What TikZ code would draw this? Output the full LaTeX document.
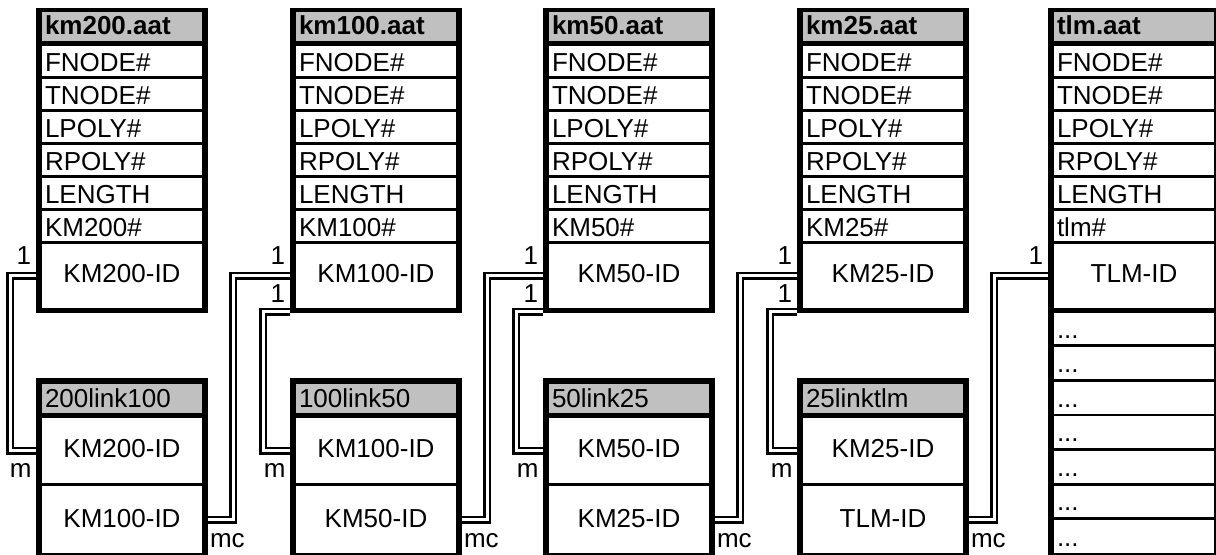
\documentclass[tikz,border=0pt]{standalone}
\usepackage{fontspec}
\setmainfont{Liberation Sans}
\usetikzlibrary{calc}
\definecolor{hdrgray}{RGB}{192,192,192}
\pgfdeclarelayer{bg}
\pgfsetlayers{bg,main}
\begin{document}
\begin{tikzpicture}[x=1bp,y=-1bp,
  every node/.style={inner sep=0pt, outer sep=0pt},
  font=\fontsize{26bp}{30bp}\selectfont,
  frame/.style={fill=black, anchor=north west, minimum width=172bp},
  cellbase/.style={anchor=north west, fill=white, text width=154bp, inner xsep=3bp, align=left},
  hdrcell/.style={cellbase, fill=hdrgray, minimum height=29bp, text height=16bp, text depth=0bp},
  lhdrcell/.style={cellbase, fill=hdrgray, minimum height=29bp, text height=17bp, text depth=0bp},
  fieldcell/.style={cellbase, minimum height=30bp, text height=22bp, text depth=0bp},
  idcell/.style={anchor=north west, fill=white, minimum width=160bp, align=center, text height=18bp, text depth=4bp},
  dotcell/.style={cellbase, minimum height=31.5bp, text height=19bp, text depth=0bp},
  card/.style={anchor=base east},
  cardr/.style={anchor=base west},
  conn/.style={draw=black, double=white, double distance=3bp, line width=2.5bp, line join=miter},
]
\useasboundingbox (0,0) rectangle (1216,555);

% top tables
\foreach \k/\x/\ttl/\num/\idt in {1/36/km200/KM200/KM200-ID, 2/290/km100/KM100/KM100-ID, 3/543/km50/KM50/KM50-ID, 4/797/km25/KM25/KM25-ID, 5/1048/tlm/tlm/TLM-ID}{
  \ifnum\k=5
    \node[frame, minimum height=549bp] (T\k) at (\x,8) {};
  \else
    \node[frame, minimum height=305bp] (T\k) at (\x,8) {};
  \fi
  \node[hdrcell] (TH\k) at (\x+6,12) {\textbf{\ttl.aat}};
  \foreach \f [count=\i] in {FNODE\#, TNODE\#, LPOLY\#, RPOLY\#, LENGTH, \num\#}{
    \node[fieldcell] (TR\k-\i) at (\x+6,{46+33*(\i-1)}) {\f};
  }
  \node[idcell, minimum height=64bp] (TID\k) at (\x+6,244) {\idt};
}

% tlm.aat extra rows
\foreach \yy [count=\i] in {313,347.5,382,416.5,451,485.5}{
  \node[dotcell] (D\i) at (1054,\yy) {...};
}
\node[dotcell, minimum height=33bp, text height=20bp] (D7) at (1054,520) {...};

% link tables
\foreach \k/\x/\ttl/\ida/\idb in {1/36/200link100/KM200-ID/KM100-ID, 2/290/100link50/KM100-ID/KM50-ID, 3/543/50link25/KM50-ID/KM25-ID, 4/797/25linktlm/KM25-ID/TLM-ID}{
  \node[frame, minimum height=179bp] (L\k) at (\x,378) {};
  \node[lhdrcell] (LH\k) at (\x+6,384) {\ttl};
  \node[idcell, minimum height=65bp] (LA\k) at (\x+6,418) {\ida};
  \node[idcell, minimum height=67bp, text height=18bp, text depth=3bp] (LB\k) at (\x+6,486) {\idb};
}

% connectors
\begin{pgfonlayer}{bg}
  \draw[conn] (TID1.west) -- ++(-32,0) |- (LA1.west);
  \foreach \p/\k in {1/2,2/3,3/4,4/5}{
    \draw[conn] (LB\p.east) -- ++(31,0) |- (TID\k.west);
  }
  \foreach \k in {2,3,4}{
    \draw[conn] ($(T\k.south west)+(0,-1.5)$) -- ++(-27,0) |- (LA\k.west);
  }
\end{pgfonlayer}

% cardinality labels
\foreach \k in {1,...,5}{
  \node[card] (one\k) at ($(TID\k.west)+(-11,-11)$) {1};
}
\foreach \k in {2,3,4}{
  \node[card] (onelow\k) at ($(T\k.south west)+(-5,-11)$) {1};
}
\foreach \k in {1,...,4}{
  \node[card] (m\k) at ($(LA\k.west)+(-10.5,26.5)$) {m};
  \node[cardr] (mc\k) at ($(LB\k.east)+(8,27.5)$) {mc};
}
\end{tikzpicture}
\end{document}
